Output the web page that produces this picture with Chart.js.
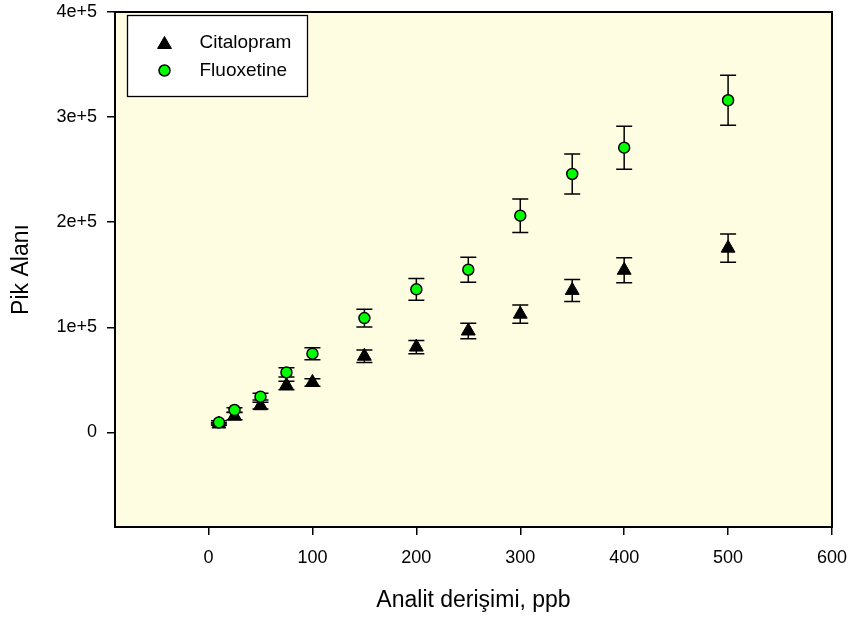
<!DOCTYPE html>
<html>
<head>
<meta charset="utf-8">
<script src="https://cdn.jsdelivr.net/npm/chart.js@4.4.1/dist/chart.umd.min.js"></script>
<style>
  html, body { margin: 0; padding: 0; background: #fff; }
  #wrap { width: 855px; height: 626px; position: relative; }
</style>
</head>
<body>
<div id="wrap"><canvas id="peakChart"></canvas></div>
<script>
// Data (ppb vs peak area)
const concentrations = [10, 25, 50, 75, 100, 150, 200, 250, 300, 350, 400, 500];
const citalopram    = [8000, 15500, 25400, 44700, 47500, 72500, 81200, 96500, 112500, 135100, 154300, 175300];
const citalopramErr = [1200, 3500, 3200, 4000, 3500, 5900, 6300, 7300, 8700, 10500, 11900, 13500];
const fluoxetine    = [9500, 21300, 34000, 57100, 74900, 108800, 136100, 154800, 206200, 245900, 270900, 316000];
const fluoxetineErr = [1500, 2200, 3200, 4500, 5700, 8400, 10300, 11900, 15900, 19000, 20500, 23800];

const xTicks = [0, 100, 200, 300, 400, 500, 600];
const yTicks = [0, 100000, 200000, 300000, 400000];
const yTickLabels = ["0", "1e+5", "2e+5", "3e+5", "4e+5"];

Chart.defaults.font.family = '"Liberation Sans", Arial, sans-serif';
Chart.defaults.color = "#000";

function toPoints(ys) {
    return concentrations.map((x, i) => ({ x: x, y: ys[i] }));
}

// yellow plot background
const plotBackground = {
    id: "plotBackground",
    beforeDraw(chart) {
        const { ctx, chartArea: a } = chart;
        ctx.save();
        ctx.fillStyle = "#fffde1";
        ctx.fillRect(a.left, a.top, a.right - a.left, a.bottom - a.top);
        ctx.restore();
    }
};

// vertical error bars with caps, drawn behind the symbols
const errorBars = {
    id: "errorBars",
    beforeDatasetsDraw(chart) {
        const { ctx } = chart;
        const yScale = chart.scales.y;
        ctx.save();
        ctx.strokeStyle = "#000";
        ctx.lineWidth = 1.5;
        chart.data.datasets.forEach((ds, di) => {
            const meta = chart.getDatasetMeta(di);
            meta.data.forEach((pt, i) => {
                const v = ds.data[i].y;
                const e = ds.errors[i];
                const yTop = yScale.getPixelForValue(v + e);
                const yBot = yScale.getPixelForValue(v - e);
                ctx.beginPath();
                ctx.moveTo(pt.x, yTop);
                ctx.lineTo(pt.x, yBot);
                ctx.moveTo(pt.x - 8, yTop);
                ctx.lineTo(pt.x + 8, yTop);
                ctx.moveTo(pt.x - 8, yBot);
                ctx.lineTo(pt.x + 8, yBot);
                ctx.stroke();
            });
        });
        ctx.restore();
    }
};

// frame + boxed legend inside plot
const frameAndLegend = {
    id: "frameAndLegend",
    afterDraw(chart) {
        const { ctx, chartArea: a } = chart;
        ctx.save();
        ctx.strokeStyle = "#000";
        ctx.lineWidth = 2;
        ctx.strokeRect(a.left, a.top, a.right - a.left, a.bottom - a.top);

        const bx = a.left + 12.5, by = a.top + 3.5;
        ctx.fillStyle = "#fff";
        ctx.fillRect(bx, by, 180, 81);
        ctx.lineWidth = 1.3;
        ctx.strokeRect(bx, by, 180, 81);

        ctx.font = '19px "Liberation Sans", Arial, sans-serif';
        ctx.textBaseline = "middle";
        chart.data.datasets.forEach((ds, i) => {
            const cy = by + 27 + i * 28;
            ctx.fillStyle = ds.backgroundColor;
            ctx.strokeStyle = ds.borderColor;
            ctx.lineWidth = ds.borderWidth;
            Chart.helpers.drawPoint(ctx, {
                pointStyle: ds.pointStyle,
                radius: ds.pointRadius,
                borderWidth: ds.borderWidth,
                rotation: 0
            }, bx + 37, cy + (ds.pointStyle === "triangle" ? 2 : 0));
            ctx.fillStyle = "#000";
            ctx.fillText(ds.label, bx + 72, cy);
        });
        ctx.restore();
    }
};

new Chart(document.getElementById("peakChart"), {
    type: "scatter",
    data: {
        datasets: [
            {
                label: "Citalopram",
                data: toPoints(citalopram),
                errors: citalopramErr,
                pointStyle: "triangle",
                pointRadius: 8,
                backgroundColor: "#000",
                borderColor: "#000",
                borderWidth: 1,
                order: 1
            },
            {
                label: "Fluoxetine",
                data: toPoints(fluoxetine),
                errors: fluoxetineErr,
                pointStyle: "circle",
                pointRadius: 5.5,
                backgroundColor: "#00ff00",
                borderColor: "#000",
                borderWidth: 1.5,
                order: 0
            }
        ]
    },
    options: {
        responsive: true,
        maintainAspectRatio: false,
        animation: false,
        layout: { padding: { top: 12, right: 23, left: 0, bottom: 0 } },
        plugins: {
            legend: { display: false },
            tooltip: { enabled: false }
        },
        scales: {
            x: {
                type: "linear",
                min: -90,
                max: 600,
                afterBuildTicks: (scale) => { scale.ticks = xTicks.map(v => ({ value: v })); },
                afterFit: (scale) => {
                    scale.height = 99;
                    scale.paddingLeft = 0;
                    scale.paddingRight = 0;
                },
                grid: { drawOnChartArea: false, tickLength: 8, tickColor: "#000", lineWidth: 1.5 },
                border: { display: false },
                ticks: { font: { size: 18 }, padding: 12, maxRotation: 0 },
                title: {
                    display: true,
                    text: "Analit derişimi, ppb",
                    font: { size: 23 },
                    padding: { top: 0, bottom: 12 }
                }
            },
            y: {
                type: "linear",
                min: -90000,
                max: 400000,
                afterBuildTicks: (scale) => { scale.ticks = yTicks.map(v => ({ value: v })); },
                afterFit: (scale) => {
                    scale.width = 115;
                    scale.paddingTop = 0;
                    scale.paddingBottom = 0;
                },
                grid: { drawOnChartArea: false, tickLength: 8, tickColor: "#000", lineWidth: 1.5 },
                border: { display: false },
                ticks: {
                    font: { size: 18 },
                    padding: 10,
                    callback: (value) => yTickLabels[yTicks.indexOf(value)]
                },
                title: {
                    display: true,
                    text: "Pik Alanı",
                    font: { size: 23 },
                    padding: { top: 8, bottom: 0 }
                }
            }
        }
    },
    plugins: [plotBackground, errorBars, frameAndLegend]
});
</script>
</body>
</html>
